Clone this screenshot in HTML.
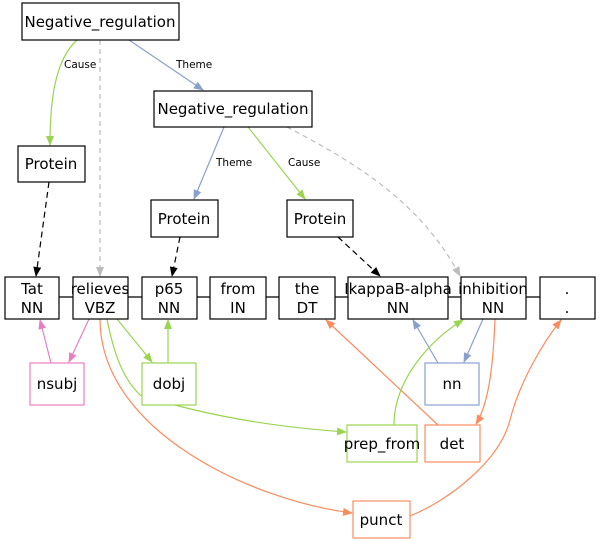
<!DOCTYPE html><html><head><style>body{margin:0;background:#fff}svg{display:block}text{font-family:"DejaVu Sans",sans-serif}</style></head><body>
<svg width="600" height="541" viewBox="0 0 600 541" xmlns="http://www.w3.org/2000/svg">
<defs>
<marker id="k" markerWidth="10" markerHeight="8" refX="9" refY="4" orient="auto" markerUnits="userSpaceOnUse"><path d="M0,0L10,4L0,8z" fill="#000"/></marker>
<marker id="g" markerWidth="10" markerHeight="8" refX="9" refY="4" orient="auto" markerUnits="userSpaceOnUse"><path d="M0,0L10,4L0,8z" fill="#9ad450"/></marker>
<marker id="b" markerWidth="10" markerHeight="8" refX="9" refY="4" orient="auto" markerUnits="userSpaceOnUse"><path d="M0,0L10,4L0,8z" fill="#8aa0cc"/></marker>
<marker id="s" markerWidth="10" markerHeight="8" refX="9" refY="4" orient="auto" markerUnits="userSpaceOnUse"><path d="M0,0L10,4L0,8z" fill="#bbb"/></marker>
<marker id="p" markerWidth="10" markerHeight="8" refX="9" refY="4" orient="auto" markerUnits="userSpaceOnUse"><path d="M0,0L10,4L0,8z" fill="#e87fc4"/></marker>
<marker id="o" markerWidth="10" markerHeight="8" refX="9" refY="4" orient="auto" markerUnits="userSpaceOnUse"><path d="M0,0L10,4L0,8z" fill="#f98c5e"/></marker>
</defs>
<g fill="none" stroke-width="1.2">
<path d="M59,297H73M128,297H142M197,297H210M266,297H279M335,297H348M448,297H461M526,297H540" stroke="#000"/>
<path d="M77,40C55,60 50,100 50,145" stroke="#9ad450" marker-end="url(#g)"/>
<path d="M129,40L203,90" stroke="#8aa0cc" marker-end="url(#b)"/>
<path d="M100,40V276" stroke="#bbb" stroke-dasharray="5,4" marker-end="url(#s)"/>
<path d="M224,127L194,199" stroke="#8aa0cc" marker-end="url(#b)"/>
<path d="M248,127L305,199" stroke="#9ad450" marker-end="url(#g)"/>
<path d="M287,127C350,160 420,200 460,276" stroke="#bbb" stroke-dasharray="5,4" marker-end="url(#s)"/>
<path d="M49,182L36,276" stroke="#000" stroke-dasharray="6,4" marker-end="url(#k)"/>
<path d="M180,237L172,276" stroke="#000" stroke-dasharray="6,4" marker-end="url(#k)"/>
<path d="M338,237L380,276" stroke="#000" stroke-dasharray="6,4" marker-end="url(#k)"/>
<path d="M51,363L40,320" stroke="#e87fc4" marker-end="url(#p)"/>
<path d="M89,319L69,362" stroke="#e87fc4" marker-end="url(#p)"/>
<path d="M117,319L152,362" stroke="#9ad450" marker-end="url(#g)"/>
<path d="M168,363V320" stroke="#9ad450" marker-end="url(#g)"/>
<path d="M107,319C115,360 125,380 140,395C220,420 290,428 346,432" stroke="#9ad450" marker-end="url(#g)"/>
<path d="M100,319C100,430 250,500 352,513" stroke="#f98c5e" marker-end="url(#o)"/>
<path d="M438,425L326,320" stroke="#f98c5e" marker-end="url(#o)"/>
<path d="M438,363L413,320" stroke="#8aa0cc" marker-end="url(#b)"/>
<path d="M483,319L464,362" stroke="#8aa0cc" marker-end="url(#b)"/>
<path d="M394,425C394,380 430,340 463,320" stroke="#9ad450" marker-end="url(#g)"/>
<path d="M495,319C493,370 488,405 476,424" stroke="#f98c5e" marker-end="url(#o)"/>
<path d="M410,516C450,500 500,460 510,420C520,380 545,340 561,320" stroke="#f98c5e" marker-end="url(#o)"/>
</g>
<g fill="#fff" stroke="#000" stroke-width="1.2">
<rect x="22" y="3" width="157" height="37"/><rect x="18" y="146" width="67" height="36"/>
<rect x="154" y="91" width="158" height="36"/><rect x="151" y="200" width="67" height="37"/><rect x="287" y="200" width="66" height="37"/>
<rect x="5" y="277" width="54" height="42"/><rect x="73" y="277" width="55" height="42"/><rect x="142" y="277" width="55" height="42"/><rect x="210" y="277" width="56" height="42"/><rect x="279" y="277" width="56" height="42"/><rect x="348" y="277" width="100" height="42"/><rect x="461" y="277" width="65" height="42"/><rect x="540" y="277" width="55" height="42"/>
<rect x="30" y="363" width="54" height="42" stroke="#e87fc4"/><rect x="142" y="363" width="54" height="42" stroke="#9ad450"/><rect x="425" y="363" width="54" height="42" stroke="#8aa0cc"/>
<rect x="347" y="425" width="70" height="37" stroke="#9ad450"/><rect x="425" y="425" width="55" height="37" stroke="#f98c5e"/><rect x="353" y="501" width="57" height="37" stroke="#f98c5e"/>
</g>
<g font-size="15" text-anchor="middle" fill="#000">
<text x="100" y="27">Negative_regulation</text><text x="51" y="169">Protein</text>
<text x="233" y="114">Negative_regulation</text><text x="184" y="224">Protein</text><text x="320" y="224">Protein</text>
<text x="32" y="294">Tat</text><text x="32" y="313">NN</text>
<text x="100" y="294">relieves</text><text x="100" y="313">VBZ</text>
<text x="169" y="294">p65</text><text x="169" y="313">NN</text>
<text x="238" y="294">from</text><text x="238" y="313">IN</text>
<text x="307" y="294">the</text><text x="307" y="313">DT</text>
<text x="398" y="294">IkappaB-alpha</text><text x="398" y="313">NN</text>
<text x="493" y="294">inhibition</text><text x="493" y="313">NN</text>
<text x="567" y="294">.</text><text x="567" y="313">.</text>
<text x="57" y="389">nsubj</text><text x="169" y="389">dobj</text><text x="452" y="389">nn</text>
<text x="382" y="449">prep_from</text><text x="452" y="449">det</text><text x="381" y="525">punct</text>
</g>
<g font-size="10.5" fill="#000">
<text x="64" y="68">Cause</text><text x="176" y="68">Theme</text><text x="216" y="166">Theme</text><text x="288" y="166">Cause</text>
</g>
</svg></body></html>
